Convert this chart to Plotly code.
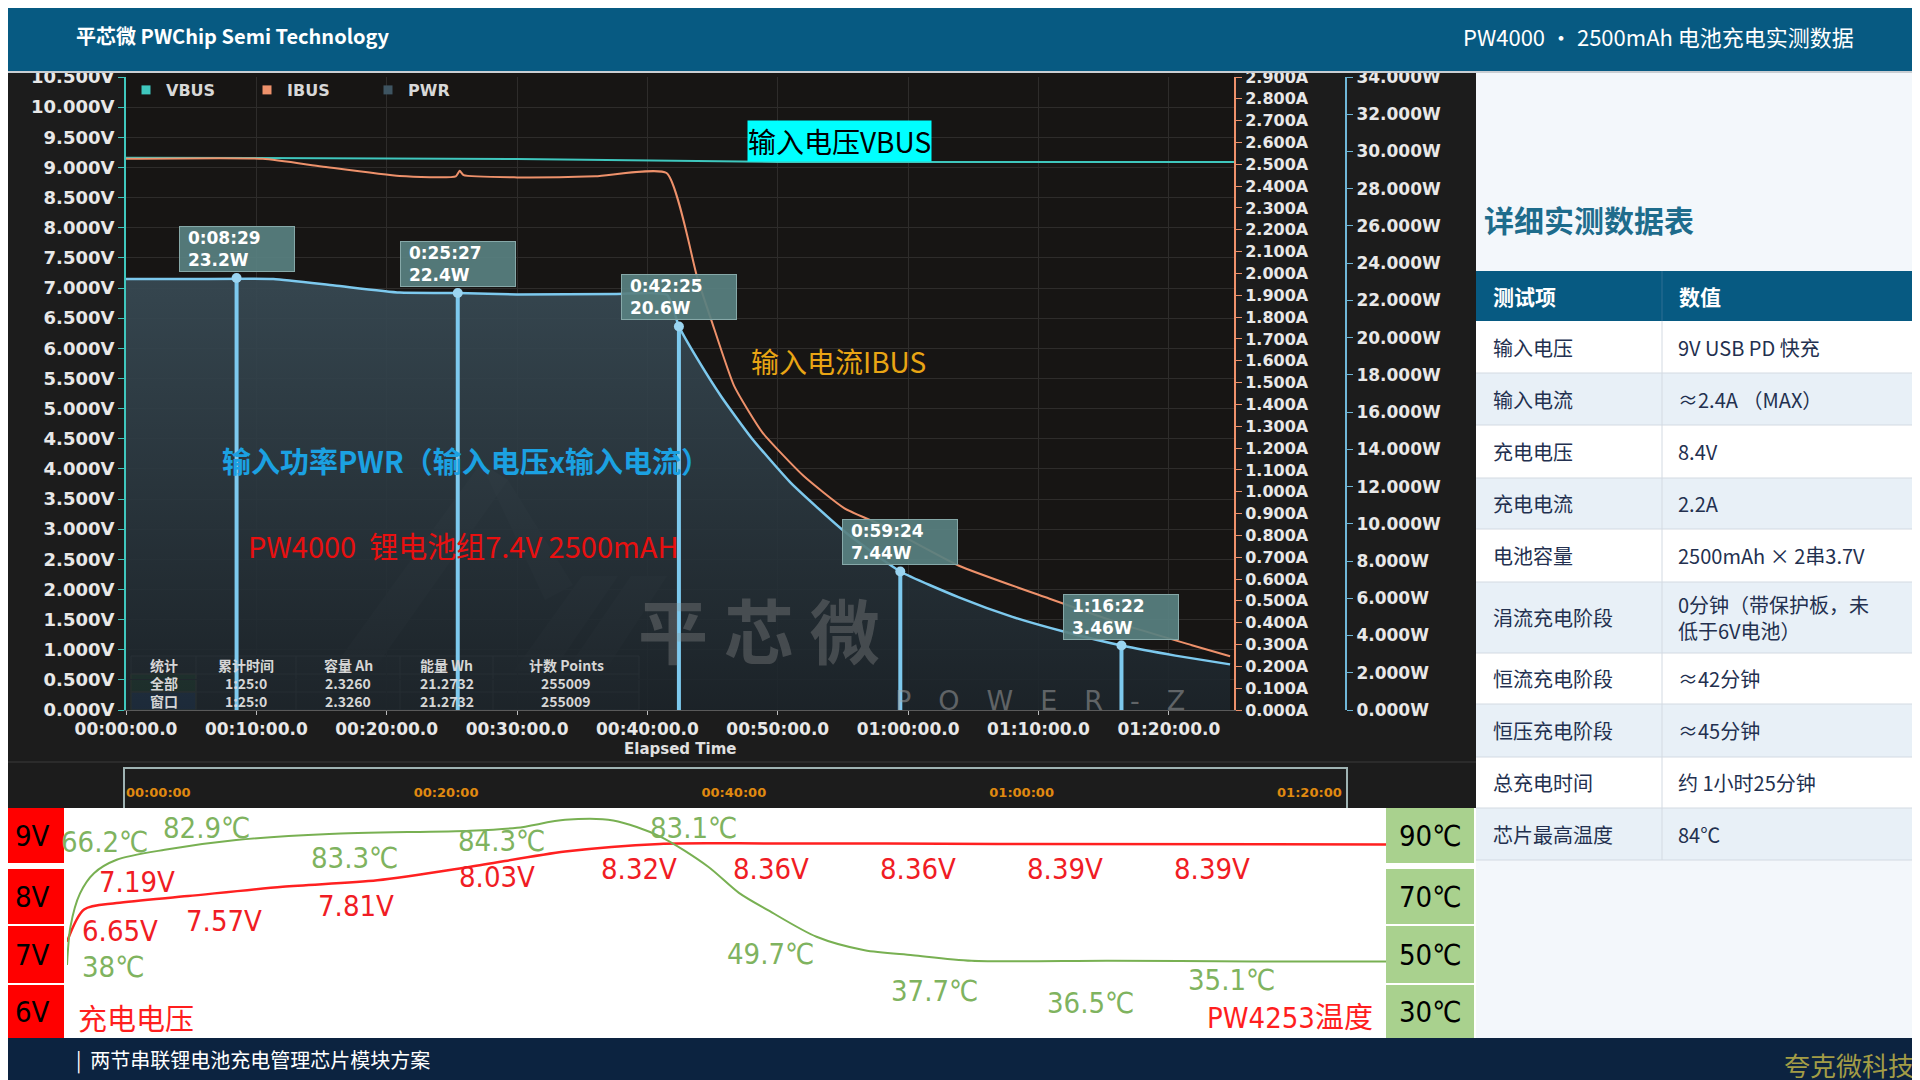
import plotly.graph_objects as go

W, H = 1920, 1080
OFF = 8  # the page body margin pushes the figure 8 px right/down; pre-compensate
CJK = "Noto Sans CJK SC"
NUM = "DejaVu Sans"
NARROW = "Liberation Sans Narrow, DejaVu Sans Condensed, Noto Sans CJK SC"


def fx(p):
    return (p - OFF) / W


def fy(p):
    return 1 - (p - OFF) / H


# ---- POWER-Z capture, elapsed time in minutes ----
vbus_t = [0, 10, 20, 30, 40, 45, 50, 60, 70, 85]
vbus_v = [9.16, 9.16, 9.15, 9.14, 9.12, 9.10, 9.09, 9.09, 9.09, 9.09]

ibus_t = [0, 10.5, 15, 21, 25.3, 25.6, 25.9, 30, 36, 41.47, 43.82, 44.92, 46.65,
          48.83, 51.97, 55.12, 58.22, 63.9, 70.8, 77.06, 81.77, 84.7]
ibus_a = [2.525, 2.525, 2.49, 2.446, 2.445, 2.47, 2.45, 2.44, 2.445, 2.46, 1.982,
          1.783, 1.485, 1.271, 1.073, 0.924, 0.84, 0.661, 0.511, 0.381, 0.297, 0.246]

pwr_t = [0, 5, 11.3, 16, 21, 25.45, 30, 37.6, 41.5, 42.42, 43.8, 45.7, 48.0, 51.0,
         55.1, 59.4, 63.9, 68.0, 72.0, 76.37, 80.5, 84.7]
pwr_w = [23.15, 23.15, 23.15, 22.8, 22.42, 22.4, 22.32, 22.35, 22.3, 20.6, 18.9,
         16.8, 14.6, 12.2, 9.6, 7.44, 6.05, 5.0, 4.2, 3.46, 2.92, 2.45]

mark_t = [8.483, 25.45, 42.417, 59.4, 76.367]
mark_w = [23.2, 22.4, 20.6, 7.44, 3.46]
mark_lbl = ["0:08:29", "0:25:27", "0:42:25", "0:59:24", "1:16:22"]

x_ticks = [0, 10, 20, 30, 40, 50, 60, 70, 80]
x_ticktext = ["00:00:00.0", "00:10:00.0", "00:20:00.0", "00:30:00.0", "00:40:00.0",
              "00:50:00.0", "01:00:00.0", "01:10:00.0", "01:20:00.0"]
nav_ticks = [0, 20, 40, 60, 80]
nav_ticktext = ["00:00:00", "00:20:00", "00:40:00", "01:00:00", "01:20:00"]

stat_head = ["统计", "累计时间", "容量 Ah", "能量 Wh", "计数 Points"]
stat_rows = [["全部", "1:25:0", "2.3260", "21.2732", "255009"],
             ["窗口", "1:25:0", "2.3260", "21.2732", "255009"]]

# ---- lower strip: charge voltage + PW4253 temperature ----
chg_t = [0, 1.1, 3.2, 7.8, 13.9, 20.0, 26.0, 32.1, 38.2, 43.3, 60, 85]
chg_v = [7.19, 7.74, 7.85, 7.97, 8.13, 8.24, 8.47, 8.73, 8.86, 8.87, 8.86, 8.85]
tmp_t = [0, 0.22, 0.84, 1.74, 3.2, 6.3, 10.9, 16.9, 26.0, 29.0, 32.1, 35.2, 38.2,
         41.3, 43.3, 45.2, 48.3, 51.4, 54.5, 58.3, 67.1, 76.4, 85]
tmp_c = [45.9, 58.9, 70.3, 77.2, 81.8, 85.2, 88.5, 90.6, 91.7, 92.7, 95.4, 95.2, 89.8,
         79.5, 70.5, 64.5, 55.5, 50.9, 49.2, 47.3, 47.3, 47.1, 47.1]
volt_lbl = ["6.65V", "7.19V", "7.57V", "7.81V", "8.03V", "8.32V", "8.36V", "8.36V", "8.39V", "8.39V"]
temp_lbl = ["38℃", "66.2℃", "82.9℃", "83.3℃", "84.3℃", "83.1℃", "49.7℃", "37.7℃", "36.5℃", "35.1℃"]
volt_box = ["9V", "8V", "7V", "6V"]
temp_box = ["90℃", "70℃", "50℃", "30℃"]

# ---- spec table ----
spec_head = ["测试项", "数值"]
spec_items = ["输入电压", "输入电流", "充电电压", "充电电流", "电池容量", "涓流充电阶段",
              "恒流充电阶段", "恒压充电阶段", "总充电时间", "芯片最高温度"]
spec_vals = ["9V USB PD 快充", "≈2.4A （MAX）", "8.4V", "2.2A", "2500mAh × 2串3.7V",
             "0分钟（带保护板，未<br>低于6V电池）", "≈42分钟", "≈45分钟", "约 1小时25分钟", "84℃"]

# layout positions (px on the 1920x1080 page)
volt_pos = [(120, 931), (137, 882), (224, 921), (356, 906), (497, 877),
            (639, 869), (771, 869), (918, 869), (1065, 869), (1212, 869)]
temp_pos = [(113, 967), (104, 842), (206, 828), (354, 858), (502, 841),
            (693, 828), (770, 954), (934, 991), (1090, 1003), (1231, 980)]
box_rows = [(808, 863), (869, 924), (926, 983), (985, 1038)]
stat_cols = [131, 196, 296, 400, 493, 639]
stat_ys = [656, 674, 692, 710]
tbl_x = [1476, 1662, 1930]
tbl_ys = [271, 321, 373, 425, 478, 529, 582, 653, 704, 757, 808, 860]

C_VBUS = "#3FC7BE"
C_IBUS = "#EE916B"
C_PWR = "#7DC9EE"

fig = go.Figure()

fig.add_trace(go.Scatter(
    x=vbus_t, y=vbus_v, mode="lines", line=dict(color=C_VBUS, width=2),
    showlegend=False, hoverinfo="skip"))
fig.add_trace(go.Scatter(
    x=ibus_t, y=ibus_a, yaxis="y2", mode="lines",
    line=dict(color=C_IBUS, width=2, shape="spline", smoothing=0.5),
    showlegend=False, hoverinfo="skip"))
fig.add_trace(go.Scatter(
    x=pwr_t, y=pwr_w, yaxis="y3", mode="lines",
    line=dict(color=C_PWR, width=2.5, shape="spline", smoothing=0.5),
    fill="tozeroy",
    fillgradient=dict(type="vertical",
                      colorscale=[[0, "rgba(28,36,42,0.9)"], [1, "rgba(56,74,84,0.92)"]]),
    showlegend=False, hoverinfo="skip"))

# cursor stems dropped from each marked reading
stem_x, stem_y = [], []
for t, w in zip(mark_t, mark_w):
    stem_x += [t, t, None]
    stem_y += [w, 0, None]
fig.add_trace(go.Scatter(
    x=stem_x, y=stem_y, yaxis="y3", mode="lines", line=dict(color=C_PWR, width=4),
    showlegend=False, hoverinfo="skip"))
fig.add_trace(go.Scatter(
    x=mark_t, y=mark_w, yaxis="y3", mode="markers",
    marker=dict(color="#9AD4F0", size=10), showlegend=False, hoverinfo="skip"))

# legend swatches like the meter's own legend
for name, col in [("VBUS", C_VBUS), ("IBUS", C_IBUS), ("PWR", "#3E5461")]:
    fig.add_trace(go.Scatter(x=[None], y=[None], mode="markers", name=name,
                             marker=dict(symbol="square", size=9, color=col)))

# empty overview strip under the time axis (keeps its axis alive)
fig.add_trace(go.Scatter(x=[None], y=[None], xaxis="x2", yaxis="y4",
                         showlegend=False, hoverinfo="skip"))

fig.add_trace(go.Scatter(
    x=chg_t, y=chg_v, xaxis="x3", yaxis="y5", mode="lines",
    line=dict(color="#FF2020", width=2.5, shape="spline", smoothing=0.8),
    showlegend=False, hoverinfo="skip"))
fig.add_trace(go.Scatter(
    x=tmp_t, y=tmp_c, xaxis="x3", yaxis="y6", mode="lines",
    line=dict(color="#78B052", width=2, shape="spline", smoothing=0.8),
    showlegend=False, hoverinfo="skip"))

grid = "#2E2C2B"
tick_font = dict(family=NUM, size=16, color="#E8E8E8", weight="bold")
fig.update_layout(
    width=W, height=H,
    margin=dict(l=0, r=0, t=0, b=0, pad=0, autoexpand=False),
    paper_bgcolor="#1C1C1C", plot_bgcolor="rgba(0,0,0,0)",
    hovermode=False,
    legend=dict(orientation="h", x=fx(126), y=fy(73), xanchor="left", yanchor="top",
                font=dict(family=NUM, size=16, color="#D8D8D8", weight="bold"),
                bgcolor="rgba(0,0,0,0)", entrywidth=76, itemwidth=30),
    xaxis=dict(domain=[fx(126), fx(1234)], range=[0, 85], anchor="y", automargin=False,
               tickvals=x_ticks, ticktext=x_ticktext, tickfont=dict(tick_font, size=17),
               showgrid=True, gridcolor=grid, zeroline=False,
               showline=True, linecolor="#5A5A5A", ticks="outside", ticklen=4,
               tickcolor="#BBBBBB"),
    yaxis=dict(domain=[fy(710), fy(77)], range=[0, 10.5], dtick=0.5, tick0=0,
               automargin=False,
               tickformat=".3f", ticksuffix="V", tickfont=dict(tick_font, size=18),
               showgrid=True, gridcolor=grid, zeroline=False,
               showline=True, linecolor=C_VBUS, linewidth=2, ticks="outside",
               ticklen=6, tickcolor=C_VBUS),
    yaxis2=dict(overlaying="y", side="right", anchor="x", range=[0, 2.9], dtick=0.1, tick0=0,
                automargin=False,
                tickformat=".3f", ticksuffix="A", tickfont=tick_font,
                showgrid=False, zeroline=False, showline=True, linecolor=C_IBUS,
                linewidth=2, ticks="outside", ticklen=6, tickcolor=C_IBUS),
    yaxis3=dict(overlaying="y", side="right", anchor="free", position=fx(1346),
                automargin=False,
                range=[0, 34], dtick=2, tick0=0, tickformat=".3f", ticksuffix="W",
                tickfont=dict(tick_font, size=17), showgrid=False, zeroline=False,
                showline=True, linecolor="#6FB7D8", linewidth=2, ticks="outside",
                ticklen=6, tickcolor="#6FB7D8"),
    xaxis2=dict(domain=[fx(126), fx(1349)], anchor="y4", range=[0, 85], automargin=False,
                tickvals=nav_ticks, ticktext=nav_ticktext, ticklabelposition="inside right",
                ticks="", showgrid=False, zeroline=False, showline=False,
                tickfont=dict(family=NUM, size=13, color="#E08A10", weight="bold")),
    yaxis4=dict(domain=[fy(806), fy(770)], anchor="x2", range=[0, 1], visible=False),
    xaxis3=dict(domain=[fx(67), fx(1386)], anchor="y5", range=[0, 85], visible=False),
    yaxis5=dict(domain=[fy(1038), fy(808)], anchor="x3", range=[5.548, 9.473], visible=False),
    yaxis6=dict(overlaying="y5", anchor="x3", range=[20.96, 99.45], visible=False),
)

shapes = []


def rect(x0, y0, x1, y1, fill, line=None, lw=0, layer="below"):
    shapes.append(dict(type="rect", xref="paper", yref="paper",
                       x0=fx(x0), x1=fx(x1), y0=fy(y1), y1=fy(y0), fillcolor=fill,
                       line=dict(color=line or fill, width=lw), layer=layer))


def hline(x0, x1, y, color, layer="below"):
    shapes.append(dict(type="line", xref="paper", yref="paper", x0=fx(x0), x1=fx(x1),
                       y0=fy(y), y1=fy(y), line=dict(color=color, width=1), layer=layer))


def vline(x, y0, y1, color, layer="below"):
    shapes.append(dict(type="line", xref="paper", yref="paper", x0=fx(x), x1=fx(x),
                       y0=fy(y0), y1=fy(y1), line=dict(color=color, width=1), layer=layer))


def poly(pts, fill):
    path = "M " + " L ".join(f"{fx(a):.5f},{fy(b):.5f}" for a, b in pts) + " Z"
    shapes.append(dict(type="path", xref="paper", yref="paper", path=path,
                       fillcolor=fill, line=dict(width=0), layer="below"))


# plot area background, then the watermark logo behind the curves
rect(126, 72, 1234, 710, "#171514")
for pts in [[(331, 671), (373, 671), (508, 480), (481, 463)],
            [(481, 463), (508, 480), (573, 585), (545, 600)],
            [(514, 671), (553, 671), (618, 576), (582, 576)],
            [(566, 671), (605, 671), (667, 576), (631, 576)]]:
    poly(pts, "rgba(125,125,125,0.25)")

# page panels
rect(1476, 72, 1930, 1038, "#F3F7FB")
hline(0, 1476, 762, "#3A3A3A")
rect(124, 768, 1347, 814, "rgba(0,0,0,0)", "#9FB3B3", 2)
rect(0, 808, 1476, 1038, "#FFFFFF")
rect(0, 1038, 1930, 1090, "#0C2340")
for y0, y1 in box_rows:
    rect(0, y0, 64, y1, "#FF0000")
    rect(1386, y0, 1474, y1, "#A9D18E")

# spec table grid
rect(tbl_x[0], tbl_ys[0], tbl_x[-1], tbl_ys[1], "#075A82")
for i in range(len(spec_items)):
    rect(tbl_x[0], tbl_ys[i + 1], tbl_x[-1], tbl_ys[i + 2],
         "#FFFFFF" if i % 2 == 0 else "#E8F0F7")
for y in tbl_ys[2:]:
    hline(tbl_x[0], tbl_x[-1], y, "#D3DAE2")
vline(tbl_x[1], tbl_ys[0], tbl_ys[1], "#2E6F93")
vline(tbl_x[1], tbl_ys[1], tbl_ys[-1], "#D3DAE2")

# in-chart statistics table
rect(stat_cols[0], stat_ys[0], stat_cols[-1], stat_ys[-1], "rgba(48,48,48,0.55)", "#6A6A6A", 1)
rect(stat_cols[0], stat_ys[1], stat_cols[1], stat_ys[2], "#1E7B22", "#9C9C2C", 1)
rect(stat_cols[0], stat_ys[2], stat_cols[1], stat_ys[3], "#2263C4", "#9C9C2C", 1)
for c in stat_cols[1:-1]:
    vline(c, stat_ys[0], stat_ys[-1], "#6A6A6A")
for r in stat_ys[1:-1]:
    hline(stat_cols[0], stat_cols[-1], r, "#6A6A6A")

# header bar
rect(0, 0, 1930, 72, "#075A82", layer="above")
rect(0, 71, 1930, 73, "#C9CED3", layer="above")
rect(840, 0, 887, 3, "#1E78D2", layer="above")
rect(887, 0, 1080, 3, "#E2E2E2", layer="above")

anns = []


def text(x, y, s, size, color, family=CJK, xanchor="center", bold=False, **kw):
    anns.append(dict(xref="paper", yref="paper", x=fx(x), y=fy(y), text=s,
                     showarrow=False, xanchor=xanchor, yanchor="middle",
                     font=dict(family=family, size=size, color=color,
                               weight="bold" if bold else "normal"), **kw))


text(74, 36, "平芯微 PWChip Semi Technology", 20, "white", xanchor="left", bold=True)
text(1856, 36, "PW4000 · 2500mAh 电池充电实测数据", 22, "white", xanchor="right")
text(1482, 219, "详细实测数据表", 30, "#1E6C8C", xanchor="left", bold=True)
text(74, 1059, "|  两节串联锂电池充电管理芯片模块方案", 20, "white", xanchor="left")
text(1849, 1064, "夸克微科技", 26, "#A39D46")

for s, x in zip(spec_head, tbl_x[:2]):
    text(x + 15, (tbl_ys[0] + tbl_ys[1]) / 2, s, 21, "white", xanchor="left", bold=True)
for i, (item, val) in enumerate(zip(spec_items, spec_vals)):
    yc = (tbl_ys[i + 1] + tbl_ys[i + 2]) / 2
    text(tbl_x[0] + 15, yc, item, 20, "#23304F", xanchor="left")
    text(tbl_x[1] + 14, yc, val, 20, "#23304F", xanchor="left", align="left")

text(839, 141, "输入电压VBUS", 28, "#000000", bgcolor="#00FFFF", borderpad=0)
text(838, 361, "输入电流IBUS", 28, "#E9A514")
text(466, 460, "输入功率PWR（输入电压x输入电流）", 29, "#1BA1E2", bold=True)
text(463, 545, "PW4000\u00a0\u00a0锂电池组7.4V 2500mAH", 29, "#E81010")
text(759, 628, "平 芯 微", 70, "rgba(150,150,150,0.33)", bold=True)
text(1040, 700, "P\u2003O\u2003W\u2003E\u2003R\u2003-\u2003Z", 27, "rgba(165,165,165,0.5)",
     family=NUM)
text(680, 749, "Elapsed Time", 15, "#E0E0E0", family=NUM, bold=True)

for c, s in enumerate(stat_head):
    text((stat_cols[c] + stat_cols[c + 1]) / 2, (stat_ys[0] + stat_ys[1]) / 2, s, 14,
         "#D6D6D6", bold=True)
for r, row in enumerate(stat_rows):
    for c, s in enumerate(row):
        text((stat_cols[c] + stat_cols[c + 1]) / 2, (stat_ys[r + 1] + stat_ys[r + 2]) / 2,
             s, 14, "#D6D6D6", bold=True)

for t, w, lbl in zip(mark_t, mark_w, mark_lbl):
    anns.append(dict(xref="x", yref="y3", x=t, y=w, text=f"\u00a0{lbl}<br>\u00a0{w:g}W",
                     showarrow=False, xanchor="center", yanchor="bottom", yshift=6,
                     align="left", width=110, height=40, valign="middle",
                     bgcolor="rgba(88,128,128,0.93)",
                     bordercolor="#86A8A8", borderwidth=1, borderpad=2,
                     font=dict(family=NUM, size=17, color="white", weight="bold")))

for s, (x, y) in zip(volt_lbl, volt_pos):
    text(x, y, s, 29, "#F01C24", family=NARROW)
for s, (x, y) in zip(temp_lbl, temp_pos):
    text(x, y, s, 29, "#7FB35F", family=NARROW)
text(136, 1017, "充电电压", 29, "#FF1E1E")
text(1290, 1018, "PW4253温度", 29, "#FF1E1E", family=NARROW)
for s, (y0, y1) in zip(volt_box, box_rows):
    text(32, (y0 + y1) / 2, s, 29, "#000000", family=NARROW)
for s, (y0, y1) in zip(temp_box, box_rows):
    text(1430, (y0 + y1) / 2, s, 29, "#000000", family=NARROW)

fig.update_layout(shapes=shapes, annotations=anns)
fig.write_html("out.html")
